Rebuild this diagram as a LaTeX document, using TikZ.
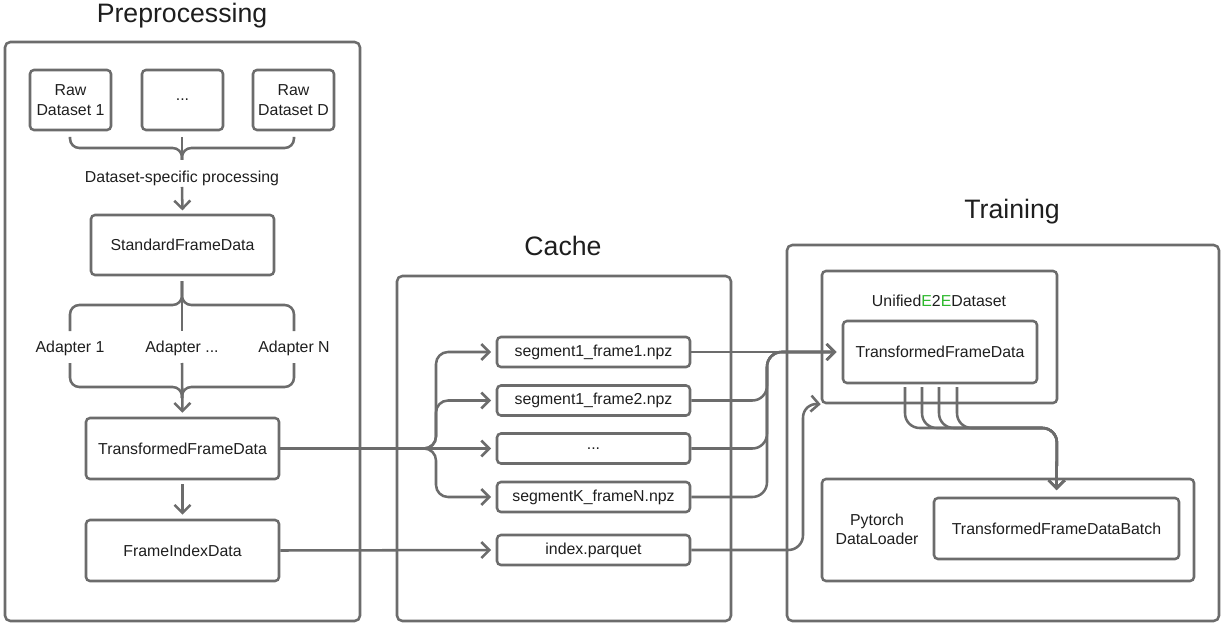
\documentclass[tikz,border=0pt]{standalone}
\usepackage{fontspec}
\setmainfont{Liberation Sans}
\usetikzlibrary{arrows.meta,calc}
\definecolor{lc}{HTML}{6C6C6C}
\definecolor{tc}{HTML}{1E1E1E}
\definecolor{gr}{HTML}{2DB82D}
\begin{document}
\begin{tikzpicture}[x=0.75pt,y=-0.75pt,
  ln/.style={draw=lc, line width=1.9pt},
  sz/.style 2 args={minimum width=#1*0.75pt, minimum height=#2*0.75pt},
  box/.style={ln, rounded corners=3pt, inner sep=0pt, align=center, text=tc, font=\fontsize{11.9}{14.5}\selectfont},
  outer/.style={ln, rounded corners=4pt, inner sep=0pt},
  lbl/.style={inner sep=1pt, align=center, text=tc, font=\fontsize{11.9}{14.5}\selectfont},
  title/.style={inner sep=0pt, text=tc, font=\fontsize{20}{23}\selectfont},
  arr/.style={ln, -{Straight Barb[length=6pt,width=12pt]}},
  brace/.style={ln, rounded corners=7pt},
  conn/.style={arr, rounded corners=9pt}]
\useasboundingbox (0,0) rectangle (1225,624);

% ---------- Preprocessing ----------
\node[title] (tpre) at (182,16) {Preprocessing};
\node[outer, sz={355}{579}] (pre) at (182.5,331.5) {};
\node[box, sz={81}{60}] (raw1) at (70.5,100) {Raw\\Dataset 1};
\node[box, sz={81}{60}] (rawm) at (182.5,100) {...};
\node[box, sz={81}{60}] (rawd) at (293.5,100) {Raw\\Dataset D};
\draw[brace] (70,137) -- (70,148) -- (182,148) -- (182,160);
\draw[brace] (294,137) -- (294,148) -- (182,148) -- (182,160);
\draw[ln] (182,137) -- (182,160);
\node[lbl] (dsp) at (182,178) {Dataset-specific processing};
\node[box, sz={183}{60}] (sfd) at (182.5,245) {StandardFrameData};
\draw[arr, shorten >=2.5pt] (dsp.south) -- (sfd.north);

\draw[brace] (70,331) -- (70,305) -- (182,305) -- (182,281);
\draw[brace] (294,331) -- (294,305) -- (182,305) -- (182,281);
\draw[ln] (182,281) -- (182,331);
\node[lbl] (ad1) at (70,348) {Adapter 1};
\node[lbl] (adm) at (182,348) {Adapter ...};
\node[lbl] (adn) at (294,348) {Adapter N};
\draw[brace] (70,363) -- (70,387) -- (182,387) -- (182,398);
\draw[brace] (294,363) -- (294,387) -- (182,387) -- (182,398);

\node[box, sz={193}{61}] (tfd) at (182.5,448.5) {TransformedFrameData};
\node[box, sz={193}{61}] (fid) at (182.5,550.5) {FrameIndexData};
\draw[arr, shorten >=3pt] (182,363) -- (tfd.north);
\draw[arr, shorten <=3pt, shorten >=3pt] (tfd.south) -- (fid.north);

% ---------- Cache ----------
\node[title] (tcache) at (563,246) {Cache};
\node[outer, sz={334}{345}] (cache) at (564,448.5) {};
\node[box, sz={193}{30}] (s11) at (593.5,352) {segment1\_frame1.npz};
\node[box, sz={193}{30}] (s12) at (593.5,400.5) {segment1\_frame2.npz};
\node[box, sz={193}{30}] (sdots) at (593.5,448.5) {...};
\node[box, sz={193}{30}] (skn) at (593.5,497) {segmentK\_frameN.npz};
\node[box, sz={193}{30}] (idx) at (593.5,550) {index.parquet};

\coordinate (br) at (436,448.5);
\draw[conn, shorten >=3.5pt] (tfd.east) -- (br) |- (s11.west);
\draw[conn, shorten >=3.5pt] (tfd.east) -- (br) |- (s12.west);
\draw[conn, shorten >=3.5pt] (tfd.east) -- (sdots.west);
\draw[conn, shorten >=3.5pt] (tfd.east) -- (br) |- (skn.west);
\draw[arr, shorten >=3.5pt] (fid.east) -- (idx.west);

% ---------- Training ----------
\node[title] (ttrain) at (1012,212) {Training};
\node[outer, sz={432}{376}] (train) at (1003,433) {};
\node[box, sz={235}{132}] (ute) at (939.5,337) {};
\node[lbl] (utet) at (939,301) {Unified\textcolor{gr}{E}2\textcolor{gr}{E}Dataset};
\node[box, sz={194}{62}] (tfdi) at (940,352) {TransformedFrameData};
\node[box, sz={372}{102}] (dl) at (1008,530) {};
\node[lbl] (dlt) at (877,529) {Pytorch\\DataLoader};
\node[box, sz={245}{61}] (tfdb) at (1056.5,528.5) {TransformedFrameDataBatch};

\draw[arr, shorten >=4pt] (s11.east) -- (tfdi.west);
\coordinate (mg) at (767,352);
\draw[conn, rounded corners=11pt, shorten >=4pt] (s12.east) -| (mg) -- (tfdi.west);
\draw[conn, rounded corners=11pt, shorten >=4pt] (sdots.east) -| (mg) -- (tfdi.west);
\draw[conn, rounded corners=11pt, shorten >=4pt] (skn.east) -| (mg) -- (tfdi.west);
\draw[conn, rounded corners=11pt] (idx.east) -- (803,550) -- (803,403) -- (ute.south west);

\coordinate (bt) at (1057,428);
\foreach \xx in {905,922,939,957}{
  \draw[conn, rounded corners=11pt, shorten >=5pt] (\xx,387) |- (bt) -- (tfdb.north);
}
\end{tikzpicture}
\end{document}
